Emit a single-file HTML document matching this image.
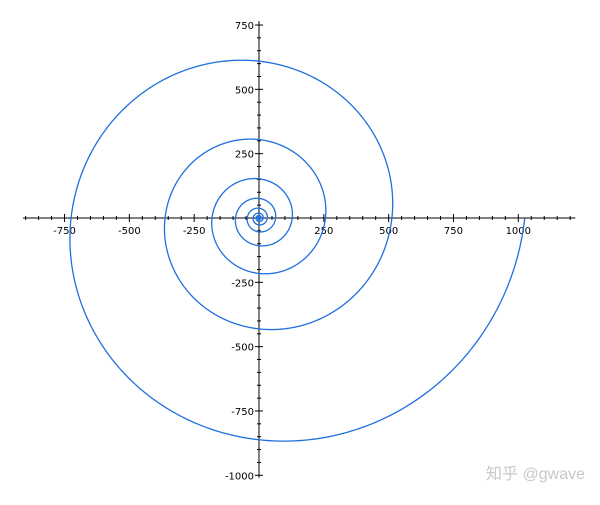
<!DOCTYPE html>
<html><head><meta charset="utf-8"><style>
body{margin:0;background:#fff;}
text{font-family:"DejaVu Sans","Liberation Sans",sans-serif;font-size:10px;fill:#000;}
</style></head><body>
<svg id="chart" width="600" height="500" xmlns="http://www.w3.org/2000/svg">
<g id="axes"></g>
<path id="spiral" fill="none" stroke="#1f6fe0" stroke-width="1.3"/>
<text x="585" y="479" text-anchor="end" style="font-family:'Liberation Sans','Noto Sans CJK SC',sans-serif;font-size:16px;fill:#c8c8c8">知乎 @gwave</text>
</svg>
<script>
const xTicks=[-750,-500,-250,250,500,750,1000];
const yTicks=[750,500,250,-250,-500,-750,-1000];
const startRadius=[1025];
const growthPerTurn=[2];
const turns=[10];
const xRange=[-910,1220];
const yRange=[-1010,765];
function sx(v){return 259+v*0.2593;}
function sy(v){return 218-v*0.2573;}
const NS="http://www.w3.org/2000/svg";
const axes=document.getElementById('axes');
function line(x1,y1,x2,y2,name){const l=document.createElementNS(NS,'line');
l.setAttribute('x1',x1);l.setAttribute('y1',y1);l.setAttribute('x2',x2);l.setAttribute('y2',y2);
l.setAttribute('stroke','#000');l.setAttribute('stroke-width','1');


axes.appendChild(l);}
function text(x,y,s,anchor,name){const t=document.createElementNS(NS,'text');
t.setAttribute('x',x);t.setAttribute('y',y);t.setAttribute('text-anchor',anchor);t.textContent=s;


axes.appendChild(t);}
line(sx(xRange[0]),sy(0),sx(xRange[1]),sy(0),'x-axis');
line(sx(0),sy(yRange[0]),sx(0),sy(yRange[1]),'y-axis');
for(let v=-900;v<=1200;v+=50){if(v===0)continue;const major=v%250===0;const h=major?4:2;
line(sx(v),sy(0)-h,sx(v),sy(0)+h,'x-tick');}
for(let v=-1000;v<=750;v+=50){if(v===0)continue;const major=v%250===0;const h=major?4:2;
line(sx(0)-h,sy(v),sx(0)+h,sy(v),'y-tick');}
xTicks.forEach(v=>text(sx(v),sy(0)+16,String(v),'middle','x-tick-label'));
yTicks.forEach(v=>text(sx(0)-5,sy(v)+4,String(v),'end','y-tick-label'));
let d='';const N=4000;
for(let i=0;i<=N;i++){const th=-turns[0]*2*Math.PI*i/N;
const r=startRadius[0]*Math.pow(growthPerTurn[0],th/(2*Math.PI));
const x=sx(r*Math.cos(th)),y=sy(r*Math.sin(th));
d+=(i?'L':'M')+x.toFixed(2)+' '+y.toFixed(2);}
document.getElementById('spiral').setAttribute('d',d);
</script>
</body></html>
